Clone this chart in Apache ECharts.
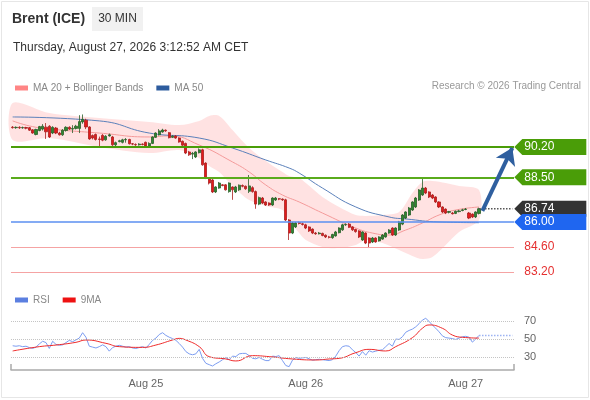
<!DOCTYPE html>
<html>
<head>
<meta charset="utf-8">
<script src="https://cdn.jsdelivr.net/npm/echarts@6/dist/echarts.min.js"></script>
<style>
  html, body { margin: 0; padding: 0; background: #fff; }
  #chart { width: 590px; height: 400px; }
</style>
</head>
<body>
<div id="chart"></div>
<script>
// 30 min candles, Aug 24 04:00 -> Aug 27 02:00, [open, close, low, high]
var ohlc = [
  [91.31,91.28,91.23,91.37],[91.28,91.30,91.22,91.35],[91.30,91.27,91.21,91.36],[91.27,91.29,91.22,91.34],
  [91.29,91.25,91.19,91.33],[91.28,91.14,91.10,91.32],[91.16,90.98,90.94,91.20],[90.90,91.18,90.85,91.22],
  [91.12,91.34,91.08,91.38],[91.20,91.36,91.12,91.48],[91.31,91.05,90.65,91.54],[91.36,90.76,90.70,91.42],
  [90.98,91.30,90.92,91.36],[91.26,90.98,90.92,91.32],[90.98,90.88,90.84,91.05],[90.88,91.14,90.82,91.20],
  [91.12,91.30,91.06,91.36],[91.30,91.20,91.15,91.36],[91.20,91.24,90.98,91.42],[91.24,91.36,91.18,91.44],
  [91.24,91.62,90.98,91.98],[91.60,91.75,91.50,92.02],[91.70,91.32,91.20,91.78],[91.32,90.65,90.60,91.36],
  [90.84,90.70,90.62,90.90],[90.90,90.62,90.56,90.95],[90.65,90.62,90.20,90.78],[90.85,90.58,90.52,90.92],
  [90.60,90.80,90.55,90.86],[90.82,90.88,90.78,90.95],[90.76,90.32,90.26,90.82],[90.32,90.44,90.25,90.50],
  [90.50,90.55,90.46,90.60],[90.46,90.60,90.40,90.66],[90.60,90.62,90.44,90.70],[90.62,90.38,90.34,90.66],
  [90.38,90.36,90.30,90.42],[90.34,90.32,90.26,90.40],[90.32,90.36,90.28,90.41],[90.36,90.34,90.29,90.40],
  [90.46,90.26,90.22,90.50],[90.26,90.40,90.22,90.46],[90.40,90.76,90.36,90.80],[90.74,90.98,90.70,91.02],
  [90.88,91.10,90.84,91.20],[91.04,91.15,91.00,91.22],[91.14,91.10,91.05,91.18],[91.00,90.72,90.68,91.04],
  [90.74,90.80,90.70,90.86],[90.82,90.70,90.66,90.86],[90.70,90.48,90.44,90.74],[90.52,90.30,90.26,90.56],
  [90.40,89.86,89.80,90.44],[89.92,89.76,89.70,89.98],[89.80,89.84,89.52,89.92],[89.64,89.92,89.58,89.96],
  [89.88,90.04,89.84,90.12],[90.04,89.20,89.15,90.10],[89.30,88.46,88.40,89.34],[88.46,88.18,88.10,88.50],
  [88.35,87.68,87.62,88.40],[87.68,87.96,87.62,88.00],[87.90,88.18,87.86,88.24],[88.08,88.04,88.00,88.12],
  [88.08,87.80,87.76,88.12],[87.70,88.18,87.64,88.22],[87.96,87.80,87.24,88.00],[87.68,87.96,87.62,88.02],
  [87.80,88.06,87.74,88.10],[88.04,88.00,87.94,88.10],[88.00,87.86,87.80,88.04],[87.72,88.02,87.62,88.63],
  [87.92,87.70,87.64,88.00],[87.70,87.00,86.74,87.76],[87.00,87.36,86.94,87.42],[87.34,87.06,87.00,87.40],
  [87.12,86.95,86.90,87.16],[87.06,86.95,86.90,87.10],[86.95,87.34,86.90,87.38],[87.23,87.34,87.18,87.40],
  [87.30,87.28,87.22,87.34],[87.28,87.24,87.18,87.32],[87.24,86.11,86.05,87.30],[86.11,85.38,84.99,86.16],
  [85.38,85.94,85.32,86.00],[85.72,85.94,85.66,86.00],[85.96,85.92,85.86,86.02],[85.90,85.86,85.80,85.96],
  [85.84,85.66,85.60,85.90],[85.72,85.50,85.44,85.76],[85.60,85.38,85.32,85.64],[85.38,85.34,85.28,85.44],
  [85.34,85.38,85.30,85.44],[85.36,85.24,85.20,85.40],[85.26,85.16,85.10,85.30],[85.16,85.14,85.08,85.22],
  [85.12,85.30,85.06,85.34],[85.22,85.44,85.18,85.50],[85.40,85.66,85.36,85.70],[85.56,85.84,85.50,85.90],
  [85.84,85.86,85.78,85.92],[85.88,85.70,85.66,85.94],[85.72,85.56,85.50,85.76],[85.58,85.46,85.40,85.62],
  [85.50,85.16,85.10,85.54],[84.99,85.44,84.94,85.48],[85.38,84.82,84.76,85.42],[85.10,84.82,84.54,85.14],
  [84.88,85.10,84.82,85.16],[85.10,84.88,84.84,85.14],[84.94,85.16,84.90,85.20],[85.04,85.27,85.00,85.32],
  [85.16,85.38,85.12,85.42],[85.38,85.55,85.34,85.60],[85.66,85.27,85.22,85.70],[85.27,85.66,85.22,85.70],
  [85.55,86.00,85.50,86.06],[85.88,86.39,85.82,86.44],[86.22,86.56,86.16,86.60],[86.39,86.78,86.34,86.84],
  [86.67,87.12,86.62,87.16],[86.84,87.34,86.78,87.40],[87.23,87.79,87.18,87.84],[87.51,87.90,87.46,88.46],
  [87.90,87.62,87.56,87.96],[87.68,87.40,87.34,87.72],[87.51,87.34,87.28,87.56],[87.40,87.12,87.06,87.44],
  [87.12,86.84,86.78,87.16],[86.84,86.56,86.50,86.88],[86.72,86.50,86.44,86.76],[86.54,86.58,86.48,86.62],
  [86.50,86.46,86.42,86.56],[86.48,86.60,86.44,86.64],[86.58,86.62,86.54,86.68],[86.64,86.68,86.60,86.74],
  [86.70,86.72,86.66,86.78],[86.50,86.22,86.16,86.56],[86.44,86.28,86.22,86.48],[86.28,86.56,86.22,86.60],
  [86.48,86.74,86.42,86.80]
];

// indicator readings, [bar index, value]
var ma20 = [[0,91.66],[5,91.38],[11,91.21],[26,90.98],[41,90.76],[47,90.82],[56,90.31],[66,89.36],[71,88.80],
  [76,88.07],[81,87.51],[86,87.12],[93,86.50],[103,85.66],[108,85.38],[113,85.27],[118,85.55],[123,85.94],
  [128,86.39],[133,86.67],[140,86.84]];
var ma50 = [[0,91.88],[26,91.66],[41,90.98],[56,90.70],[66,90.14],[76,89.47],[83,89.02],[86,88.74],[93,87.90],
  [103,86.84],[113,86.28],[118,86.17],[128,86.00],[140,85.96]];
var bandIdx = [0,11,26,41,50,56,59,62,66,71,76,81,83,86,88,93,98,103,106,111,116,120,123,126,130,134,140];
var bbUpper = [92.66,92.10,91.82,91.60,91.43,91.66,91.94,91.94,91.15,90.14,89.42,88.80,88.58,88.46,88.18,87.40,
  86.84,86.39,86.34,86.39,86.56,87.62,88.24,88.30,88.18,88.02,87.79];
var bbLower = [90.59,90.70,90.20,89.86,90.03,89.58,89.14,88.80,88.02,87.23,86.90,86.67,86.11,85.38,84.99,84.60,
  84.54,84.71,84.99,84.82,84.43,84.10,83.93,84.04,84.71,85.44,86.11];

var rsi = [42.5,42.0,42.5,41.5,42.0,40.5,39.5,41.0,44.5,47.5,46.0,39.5,47.5,44.0,43.0,43.5,46.0,48.5,47.0,49.0,
  51.0,57.0,52.0,42.0,41.0,40.0,41.5,43.5,41.5,36.5,40.5,42.0,43.0,42.0,41.0,41.5,40.0,39.5,40.5,41.5,
  40.0,44.0,48.5,51.0,55.0,57.0,54.0,52.0,50.5,48.5,45.0,41.0,36.0,33.5,32.5,33.5,38.5,28.5,23.0,21.5,
  20.0,22.5,24.5,27.0,29.5,27.0,31.0,30.5,33.5,34.0,34.0,31.5,28.5,28.0,29.5,27.5,26.0,26.0,31.0,30.5,
  31.5,26.0,20.5,19.3,26.5,29.5,28.5,29.0,29.5,28.0,26.5,27.0,27.5,27.0,26.5,26.0,27.0,31.0,37.0,41.5,
  42.5,42.0,38.0,35.0,31.0,36.0,32.0,37.0,35.5,36.5,37.5,38.0,41.5,45.0,42.0,50.0,49.5,52.5,57.5,59.5,
  61.0,63.5,67.0,71.0,73.0,69.5,65.5,62.0,58.0,53.5,51.5,51.0,50.5,49.5,51.0,52.5,53.0,52.0,46.5,50.0,54.0];
var rsiMa = [[0,36.7],[8,41.5],[13,43.3],[19,46.3],[22,48.9],[28,45.2],[32,41.5],[39,40.7],[43,43.3],[48,48.9],
  [50,50.7],[52,48.9],[56,41.5],[59,30.4],[64,27.8],[67,25.6],[72,31.5],[77,30.4],[84,27.8],[91,26.7],[95,27.8],
  [98,28.5],[103,34.8],[107,38.5],[112,36.7],[115,41.5],[120,51.5],[123,61.9],[125,65.6],[129,61.9],[132,54.4],
  [135,51.9],[140,51.0]];

var levels = [90.20, 88.50, 86.00, 84.60, 83.20];
var lastPrice = 86.74;
var tagValues = [90.20, 88.50, 86.74, 86.00, 84.60, 83.20];
var rsiLevels = [70, 50, 30];
var rsiLast = 54;
var target = 90.15;

// x axis: 30 min slots from Aug 24 04:00, last slots left empty
var categories = [];
function pad(n) { return n < 10 ? '0' + n : '' + n; }
for (var i = 0; i < 151; i++) {
  var mins = 4 * 60 + i * 30;
  var m = mins % 1440;
  categories.push('Aug ' + (24 + Math.floor(mins / 1440)) + ' ' + pad(Math.floor(m / 60)) + ':' + pad(m % 60));
}
var lastIdx = ohlc.length - 1;
var endIdx = categories.length - 1;

var levelStyles = [
  { color: '#4a9d08', width: 2 },
  { color: '#5aab1c', width: 2 },
  { color: '#5b8ff0', width: 1.5 },
  { color: '#f5a3a3', width: 1 },
  { color: '#f5a3a3', width: 1 }
];
var tagStyles = [
  { box: '#4a9d08', text: '#fff' },
  { box: '#4a9d08', text: '#fff' },
  { box: '#333333', text: '#fff' },
  { box: '#1f66f0', text: '#fff' },
  { box: null, text: '#e53030' },
  { box: null, text: '#e53030' }
];

var FONT = 'Liberation Sans, Arial, sans-serif';
var chart = echarts.init(document.getElementById('chart'));

chart.setOption({
  animation: false,
  textStyle: { fontFamily: FONT },
  graphic: [
    { type: 'rect', shape: { x: 1.5, y: 1.5, width: 587, height: 396 }, style: { fill: 'none', stroke: '#e6e6e6', lineWidth: 1 }, silent: true },
    { type: 'text', x: 12, y: 19, style: { text: 'Brent (ICE)', font: 'bold 14px ' + FONT, fill: '#333', verticalAlign: 'middle' } },
    { type: 'rect', shape: { x: 92, y: 7, width: 51, height: 24 }, style: { fill: '#f1f1f1' } },
    { type: 'text', x: 117.5, y: 19, style: { text: '30 MIN', font: '12px ' + FONT, fill: '#333', align: 'center', verticalAlign: 'middle' } },
    { type: 'text', x: 13, y: 48, style: { text: 'Thursday, August 27, 2026 3:12:52 AM CET', font: '12px ' + FONT, fill: '#333', verticalAlign: 'middle' } },
    { type: 'text', x: 581, y: 86, style: { text: 'Research \u00a9 2026 Trading Central', font: '10px ' + FONT, fill: '#999', align: 'right', verticalAlign: 'middle' } }
  ],
  legend: [
    {
      left: 10, top: 78, icon: 'rect', itemWidth: 13, itemHeight: 5, itemGap: 13,
      textStyle: { color: '#888', fontSize: 10 },
      data: [
        { name: 'MA 20 + Bollinger Bands', itemStyle: { color: '#ff8585' } },
        { name: 'MA 50', itemStyle: { color: '#2d5c9e' } }
      ]
    },
    {
      left: 10, top: 290, icon: 'rect', itemWidth: 13, itemHeight: 5, itemGap: 13,
      textStyle: { color: '#888', fontSize: 10 },
      data: [
        { name: 'RSI', itemStyle: { color: '#5b7fe0' } },
        { name: '9MA', itemStyle: { color: '#ee1111' } }
      ]
    }
  ],
  grid: [
    { left: 11, width: 503, top: 95, height: 190 },
    { left: 11, width: 503, top: 305, height: 65 }
  ],
  xAxis: [
    { gridIndex: 0, type: 'category', data: categories, boundaryGap: true, show: false },
    {
      gridIndex: 1, type: 'category', data: categories, boundaryGap: true,
      axisLine: { lineStyle: { color: '#aaa', width: 1.5 } },
      axisTick: { show: true, inside: true, length: 6, interval: function (i) { return i === 0; }, lineStyle: { color: '#aaa', width: 1.5 } },
      axisLabel: {
        color: '#666', fontSize: 11, margin: 8,
        interval: function (i, v) { return v.slice(-5) === '00:00'; },
        formatter: function (v) { return v.slice(0, 6); }
      },
      splitLine: { show: false }
    }
  ],
  yAxis: [
    { gridIndex: 0, type: 'value', min: 82.47, max: 93.11, show: false, splitLine: { show: false } },
    { gridIndex: 1, type: 'value', min: 15.56, max: 87.78, show: false, splitLine: { show: false } }
  ],
  series: [
    {
      type: 'custom', name: 'MA 20 + Bollinger Bands', xAxisIndex: 0, yAxisIndex: 0, z: 1, silent: true,
      data: [[0, 86]],
      renderItem: function (params, api) {
        var pts = [], k;
        for (k = 0; k < bandIdx.length; k++) pts.push(api.coord([bandIdx[k], bbUpper[k]]));
        for (k = bandIdx.length - 1; k >= 0; k--) pts.push(api.coord([bandIdx[k], bbLower[k]]));
        return { type: 'polygon', shape: { points: pts, smooth: 0.3 }, style: { fill: 'rgba(255,110,110,0.2)' } };
      }
    },
    {
      type: 'line', name: 'MA 20 + Bollinger Bands', xAxisIndex: 0, yAxisIndex: 0, z: 2,
      data: ma20, smooth: true, symbol: 'none', lineStyle: { color: '#f49a9a', width: 1 }, itemStyle: { color: '#ff8585' }
    },
    {
      type: 'line', name: 'MA 50', xAxisIndex: 0, yAxisIndex: 0, z: 2,
      data: ma50, smooth: true, symbol: 'none', lineStyle: { color: '#5a80ba', width: 1 }, itemStyle: { color: '#2d5c9e' }
    },
    {
      type: 'candlestick', name: 'Brent', xAxisIndex: 0, yAxisIndex: 0, z: 3,
      data: ohlc, barWidth: 2.6,
      itemStyle: { color: '#2f8a2f', color0: '#e31b1b', borderColor: '#2a5e2a', borderColor0: '#a82020', borderWidth: 0.8 },
      markLine: {
        silent: true, symbol: 'none', label: { show: false },
        data: levels.map(function (v, k) {
          return { yAxis: v, lineStyle: { color: levelStyles[k].color, width: levelStyles[k].width, type: 'solid' } };
        })
      }
    },
    {
      type: 'line', name: 'last', xAxisIndex: 0, yAxisIndex: 0, z: 4, clip: false,
      data: [[lastIdx, lastPrice], [endIdx, lastPrice]], symbol: 'none',
      lineStyle: { color: '#555', width: 1.5, type: 'dotted' },
      markLine: {
        silent: true, symbol: ['none', 'arrow'], symbolSize: 16, label: { show: false },
        lineStyle: { color: '#2f5f9f', width: 4, type: 'solid' },
        data: [[{ coord: [lastIdx + 1, 86.62] }, { coord: [endIdx, target] }]]
      }
    },
    {
      type: 'custom', name: 'tags', xAxisIndex: 0, yAxisIndex: 0, z: 5, silent: true,
      data: tagValues.map(function (v) { return [endIdx, v]; }),
      encode: { x: 0, y: 1 },
      renderItem: function (params, api) {
        var v = api.value(1);
        var p = api.coord([endIdx, v]);
        var x = p[0] + 2, y = p[1];
        var st = tagStyles[params.dataIndex];
        var children = [];
        if (st.box) {
          children.push({ type: 'polygon', shape: { points: [[x, y], [x + 8, y - 8], [x + 72, y - 8], [x + 72, y + 8], [x + 8, y + 8]] }, style: { fill: st.box } });
        }
        children.push({ type: 'text', style: { text: v.toFixed(2), x: x + 10, y: y, verticalAlign: 'middle', fill: st.text, font: '12px ' + FONT } });
        return { type: 'group', children: children };
      }
    },
    {
      type: 'line', name: 'RSI', xAxisIndex: 1, yAxisIndex: 1, z: 3,
      data: rsi, symbol: 'none', lineStyle: { color: '#7b9cf0', width: 1 }, itemStyle: { color: '#5b7fe0' },
      markLine: {
        silent: true, symbol: 'none',
        lineStyle: { color: '#c4c4c4', width: 1, type: 'dotted' },
        label: { position: 'end', formatter: '{c}', color: '#666', fontSize: 11, distance: 10 },
        data: rsiLevels.map(function (v) { return { yAxis: v }; })
      }
    },
    {
      type: 'line', name: '9MA', xAxisIndex: 1, yAxisIndex: 1, z: 4,
      data: rsiMa, smooth: true, symbol: 'none', lineStyle: { color: '#ee2a2a', width: 1 }, itemStyle: { color: '#ee1111' }
    },
    {
      type: 'line', name: 'rsiLast', xAxisIndex: 1, yAxisIndex: 1, z: 3,
      data: [[lastIdx, rsiLast], [endIdx, rsiLast]], symbol: 'none',
      lineStyle: { color: '#9db3f2', width: 1.5, type: 'dotted' }
    }
  ]
});
</script>
</body>
</html>
